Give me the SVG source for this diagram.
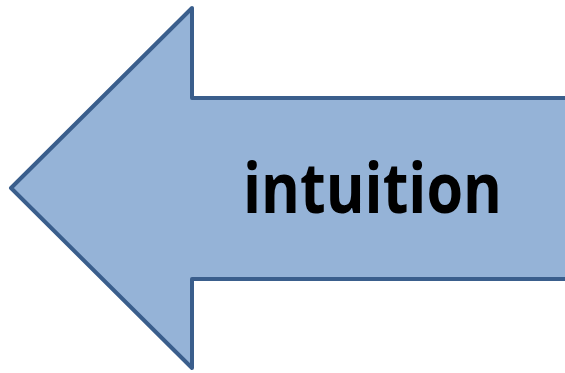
<svg xmlns="http://www.w3.org/2000/svg" width="565" height="373" viewBox="0 0 565 373">
<style>
.arrow{fill:#95B3D7;stroke:#3A5E8C;stroke-width:4;stroke-linejoin:round}
.lbl{font-family:"Open Sans","Noto Sans","Liberation Sans",sans-serif;font-weight:bold;font-size:70px;fill:#000}
</style>
<rect width="565" height="373" fill="#fff"/>
<g id="arrow">
<polygon class="arrow" points="11,188 192,8 192,98 570,98 570,279 192,279 192,368"/>
<text class="lbl" x="372.5" y="213" text-anchor="middle" textLength="259" lengthAdjust="spacingAndGlyphs">intuition</text>
</g>
</svg>
